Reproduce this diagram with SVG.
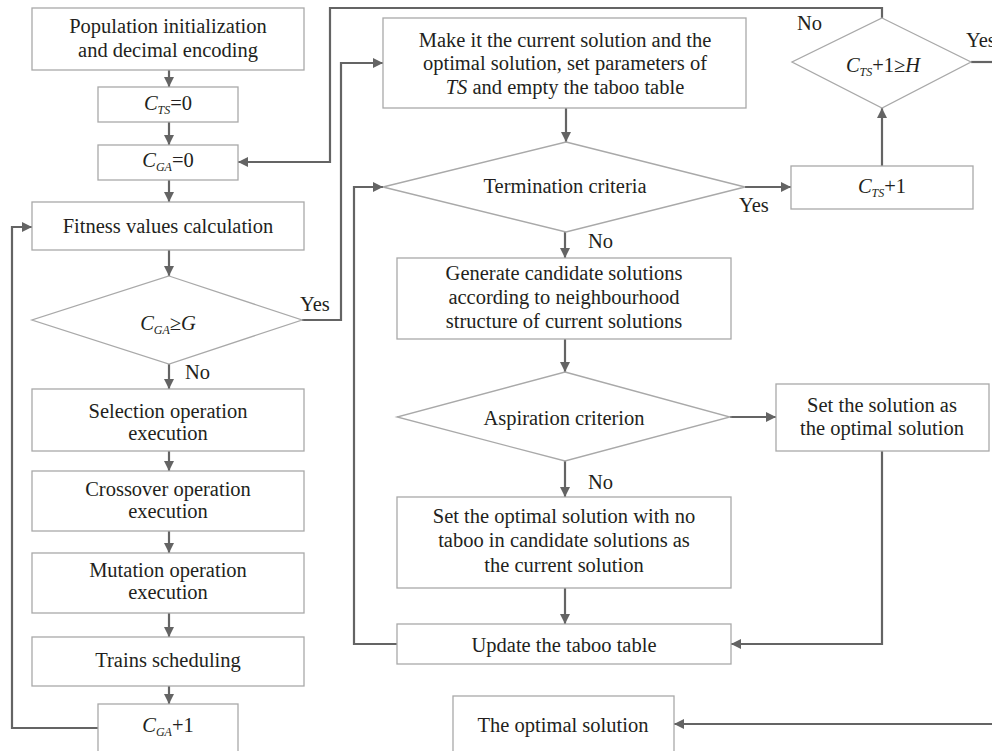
<svg xmlns="http://www.w3.org/2000/svg" width="992" height="751" viewBox="0 0 992 751" font-family="Liberation Serif, Tinos, Times New Roman, DejaVu Serif, Noto Serif, serif">
<style>
.box{fill:#fff;stroke:#a9a9a9;stroke-width:1.3}
text{font-size:20.5px;fill:#231f20}
.t{text-anchor:middle}
.i{font-style:italic}
.s{font-style:italic;font-size:12px}
.c{fill:none;stroke:#646464;stroke-width:2.2}
</style>
<defs>
<marker id="a" markerUnits="userSpaceOnUse" markerWidth="11" markerHeight="11" refX="10" refY="5.5" orient="auto">
<path d="M0,0.5 L10,5.5 L0,10.5 z" fill="#646464"/>
</marker>
</defs>
<rect width="992" height="751" fill="#fff"/>
<g id="connectors">
<path class="c" d="M169,70 V87" marker-end="url(#a)"/>
<path class="c" d="M169,122 V145" marker-end="url(#a)"/>
<path class="c" d="M169,180 V202" marker-end="url(#a)"/>
<path class="c" d="M169,250 V276" marker-end="url(#a)"/>
<path class="c" d="M169,364 V389" marker-end="url(#a)"/>
<path class="c" d="M169,451 V471" marker-end="url(#a)"/>
<path class="c" d="M169,531 V553" marker-end="url(#a)"/>
<path class="c" d="M169,613 V637" marker-end="url(#a)"/>
<path class="c" d="M169,686 V704" marker-end="url(#a)"/>
<path class="c" d="M98,728 H12 V227 H32" marker-end="url(#a)"/>
<path class="c" d="M302,320 H341 V63 H383" marker-end="url(#a)"/>
<path class="c" d="M566,108 V142" marker-end="url(#a)"/>
<path class="c" d="M745,187 H791" marker-end="url(#a)"/>
<path class="c" d="M882,166 V108" marker-end="url(#a)"/>
<path class="c" d="M882,18 V8 H330 V162 H238" marker-end="url(#a)"/>
<path class="c" d="M971,62 H1000"/>
<path class="c" d="M1000,724 H674" marker-end="url(#a)"/>
<path class="c" d="M565,232 V258" marker-end="url(#a)"/>
<path class="c" d="M565,339 V372" marker-end="url(#a)"/>
<path class="c" d="M730,417 H776" marker-end="url(#a)"/>
<path class="c" d="M565,461 V497" marker-end="url(#a)"/>
<path class="c" d="M565,588 V624" marker-end="url(#a)"/>
<path class="c" d="M882,451 V644 H731" marker-end="url(#a)"/>
<path class="c" d="M397,644 H354 V187 H383" marker-end="url(#a)"/>
<text x="300" y="311">Yes</text>
<text x="185" y="379">No</text>
<text x="739" y="212">Yes</text>
<text x="797" y="30">No</text>
<text x="966" y="47">Yes</text>
<text x="588" y="248">No</text>
<text x="588" y="489">No</text>
</g>
<g id="n1"><rect class="box" x="32" y="8" width="272" height="62"/><text class="t" x="168" y="33">Population initialization</text><text class="t" x="168" y="57">and decimal encoding</text></g>
<g id="n2"><rect class="box" x="98" y="87" width="140" height="35"/><text class="t" x="168" y="110"><tspan class="i">C</tspan><tspan class="s" dy="4">TS</tspan><tspan dy="-4">=0</tspan></text></g>
<g id="n3"><rect class="box" x="98" y="145" width="140" height="35"/><text class="t" x="168" y="167"><tspan class="i">C</tspan><tspan class="s" dy="4">GA</tspan><tspan dy="-4">=0</tspan></text></g>
<g id="n4"><rect class="box" x="32" y="202" width="272" height="48"/><text class="t" x="168" y="233">Fitness values calculation</text></g>
<g id="n5"><polygon class="box" points="169,276 302,320 169,364 32,320"/><text class="t" x="168" y="330"><tspan class="i">C</tspan><tspan class="s" dy="4">GA</tspan><tspan class="i" dy="-4">≥G</tspan></text></g>
<g id="n6"><rect class="box" x="32" y="389" width="272" height="62"/><text class="t" x="168" y="418">Selection operation</text><text class="t" x="168" y="440">execution</text></g>
<g id="n7"><rect class="box" x="32" y="471" width="272" height="60"/><text class="t" x="168" y="496">Crossover operation</text><text class="t" x="168" y="518">execution</text></g>
<g id="n8"><rect class="box" x="32" y="553" width="272" height="60"/><text class="t" x="168" y="577">Mutation operation</text><text class="t" x="168" y="599">execution</text></g>
<g id="n9"><rect class="box" x="32" y="637" width="272" height="49"/><text class="t" x="168" y="667">Trains scheduling</text></g>
<g id="n10"><rect class="box" x="98" y="704" width="140" height="60"/><text class="t" x="168" y="732"><tspan class="i">C</tspan><tspan class="s" dy="4">GA</tspan><tspan dy="-4">+1</tspan></text></g>
<g id="n11"><rect class="box" x="383" y="18" width="363" height="90"/><text class="t" x="565" y="47">Make it the current solution and the</text><text class="t" x="565" y="70">optimal solution, set parameters of</text><text class="t" x="565" y="94"><tspan class="i">TS</tspan> and empty the taboo table</text></g>
<g id="n12"><polygon class="box" points="566,142 745,187 566,232 383,187"/><text class="t" x="565" y="193">Termination criteria</text></g>
<g id="n13"><rect class="box" x="791" y="166" width="182" height="43"/><text class="t" x="882" y="193"><tspan class="i">C</tspan><tspan class="s" dy="4">TS</tspan><tspan dy="-4">+1</tspan></text></g>
<g id="n14"><polygon class="box" points="882,18 971,62 882,108 792,62"/><text class="t" x="883" y="72"><tspan class="i">C</tspan><tspan class="s" dy="4">TS</tspan><tspan dy="-4">+1≥</tspan><tspan class="i">H</tspan></text></g>
<g id="n15"><rect class="box" x="397" y="258" width="334" height="81"/><text class="t" x="564" y="280">Generate candidate solutions</text><text class="t" x="564" y="304">according to neighbourhood</text><text class="t" x="564" y="328">structure of current solutions</text></g>
<g id="n16"><polygon class="box" points="565,372 730,417 565,461 397,417"/><text class="t" x="564" y="425">Aspiration criterion</text></g>
<g id="n17"><rect class="box" x="776" y="384" width="213" height="67"/><text class="t" x="882" y="412">Set the solution as</text><text class="t" x="882" y="435">the optimal solution</text></g>
<g id="n18"><rect class="box" x="397" y="497" width="334" height="91"/><text class="t" x="564" y="523">Set the optimal solution with no</text><text class="t" x="564" y="547">taboo in candidate solutions as</text><text class="t" x="564" y="572">the current solution</text></g>
<g id="n19"><rect class="box" x="397" y="624" width="334" height="40"/><text class="t" x="564" y="652">Update the taboo table</text></g>
<g id="n20"><rect class="box" x="453" y="696" width="221" height="70"/><text class="t" x="563" y="732">The optimal solution</text></g>
</svg>
